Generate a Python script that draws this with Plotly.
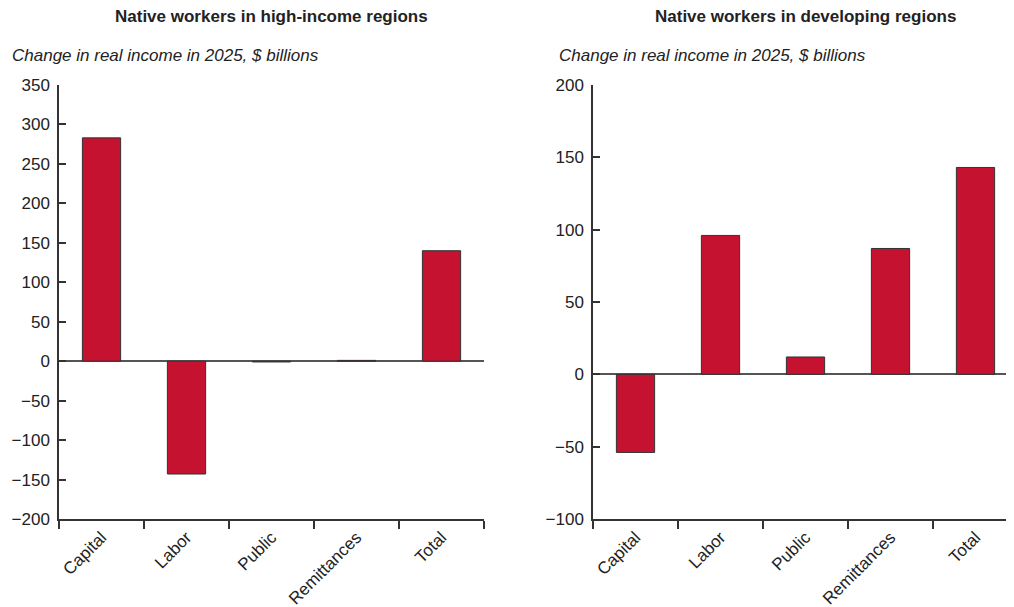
import plotly.graph_objects as go

categories = ["Capital", "Labor", "Public", "Remittances", "Total"]
high_income = [283, -143, -1, 1, 140]
developing = [-54, 96, 12, 87, 143]

bar_color = "#C41230"
font_family = "Liberation Sans, Arial, Helvetica, sans-serif"

fig = go.Figure()

fig.add_trace(go.Bar(x=categories, y=high_income, xaxis="x", yaxis="y",
                     marker=dict(color=bar_color, line=dict(color="#333333", width=1)),
                     width=0.45))
fig.add_trace(go.Bar(x=categories, y=developing, xaxis="x2", yaxis="y2",
                     marker=dict(color=bar_color, line=dict(color="#333333", width=1)),
                     width=0.45))

W, H = 1014, 607
off = 8  # page margin of the html body
y_dom = [1 - (519 - off) / H, 1 - (85 - off) / H]

xcommon = dict(
    type="category",
    showline=True,
    linecolor="#333333",
    linewidth=1.5,
    ticks="outside",
    tickson="boundaries",
    ticklen=8,
    tickcolor="#333333",
    tickwidth=1.5,
    tickangle=-45,
    tickfont=dict(family=font_family, size=17, color="#222222"),
    showgrid=False,
    zeroline=False,
    fixedrange=True,
)
ycommon = dict(
    showline=True,
    linecolor="#333333",
    linewidth=1.5,
    ticks="inside",
    ticklen=7,
    tickcolor="#333333",
    tickwidth=1.5,
    dtick=50,
    tickfont=dict(family=font_family, size=17, color="#222222"),
    showgrid=False,
    zeroline=True,
    zerolinecolor="#555555",
    zerolinewidth=1.5,
    ticklabelstandoff=4,
)

fig.update_layout(
    width=W,
    height=H,
    margin=dict(l=0, r=0, t=0, b=0, autoexpand=False),
    plot_bgcolor="white",
    paper_bgcolor="white",
    showlegend=False,
    xaxis=dict(xcommon, domain=[(59 - off) / W, (484 - off) / W], range=[-0.5, 4.5], anchor="y"),
    yaxis=dict(ycommon, domain=y_dom, range=[-200, 350], anchor="x"),
    xaxis2=dict(xcommon, domain=[(593 - off) / W, (1018 - off) / W], range=[-0.5, 4.5], anchor="y2"),
    yaxis2=dict(ycommon, domain=y_dom, range=[-100, 200], anchor="x2"),
)

annotations = []
# titles
annotations.append(dict(xref="paper", yref="paper", x=(271.5 - off) / W, y=1 - (17 - off) / H,
                        xanchor="center", yanchor="middle", showarrow=False,
                        text="<b>Native workers in high-income regions</b>",
                        font=dict(family=font_family, size=17, color="#222222")))
annotations.append(dict(xref="paper", yref="paper", x=(805.5 - off) / W, y=1 - (17 - off) / H,
                        xanchor="center", yanchor="middle", showarrow=False,
                        text="<b>Native workers in developing regions</b>",
                        font=dict(family=font_family, size=17, color="#222222")))
# subtitles
for xpos in [10, 557]:
    annotations.append(dict(xref="paper", yref="paper", x=(xpos - off) / W, y=1 - (56 - off) / H,
                            xanchor="left", yanchor="middle", showarrow=False,
                            text="<i>Change in real income in 2025, $ billions</i>",
                            font=dict(family=font_family, size=17, color="#222222")))

fig.update_layout(annotations=annotations)

fig.write_html("out.html")
